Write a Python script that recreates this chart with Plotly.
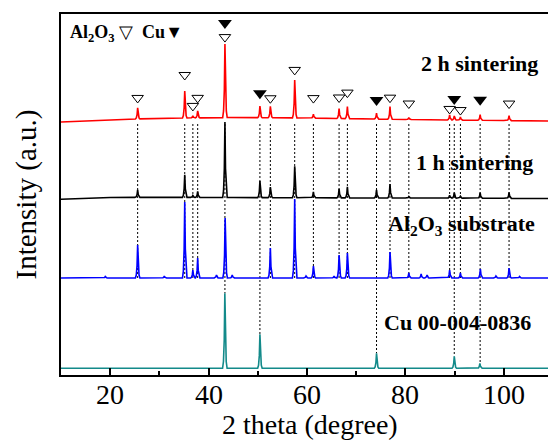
import numpy as np
import plotly.graph_objects as go

# ---------------- data ----------------
# peak positions (2 theta, degree) and intensities (a.u., relative to own baseline)
cu_ref_pos = [43.30, 50.43, 74.13, 89.93, 95.14]
cu_ref_int = [75, 34, 15, 12, 5]

al2o3_pos = [19.0, 25.58, 31.0, 35.15, 36.80, 37.78, 41.6, 43.36, 44.8, 52.55, 57.50,
             59.8, 61.30, 65.5, 66.52, 68.21, 76.87, 80.70, 83.2, 84.4, 88.99,
             91.18, 95.24, 98.4, 101.07, 103.2]
al2o3_int = [1.5, 33, 2, 76, 8, 20, 3, 60, 3, 30, 79,
             2, 12, 2, 23, 25, 26, 5, 4, 3, 8,
             5, 9, 2, 10, 1.5]

h1_pos = [25.58, 35.15, 36.80, 37.78, 43.32, 50.43, 52.55, 57.50, 61.30, 66.52,
          68.21, 74.13, 76.87, 80.70, 88.99, 89.93, 91.18, 95.19, 101.07]
h1_int = [7.5, 22.5, 2, 6, 75.5, 16.5, 10.5, 31.5, 6, 9,
          11, 8, 14, 1.5, 3, 5.5, 2, 5.5, 6]

h2_pos = [25.58, 35.15, 36.80, 37.78, 43.32, 50.43, 52.55, 57.50, 61.30, 66.52,
          68.21, 74.13, 76.87, 80.70, 88.99, 89.93, 91.18, 95.19, 101.07]
h2_int = [11, 27, 2, 7, 73.5, 11.5, 11.5, 38, 4, 10,
          12, 6, 12.6, 2, 5, 4, 3, 5.5, 5]

# slowly varying baselines (2 theta, intensity)
base_x = [10, 20, 25, 35, 45, 60, 80, 100, 110]
cu_ref_base = [6.7] * 9
al2o3_base = [97, 97, 97, 97, 97, 97, 97, 97, 97]
h1_base = [175.7, 177.5, 177.6, 177.6, 177.5, 177.2, 177.0, 176.7, 176.5]
h2_base = [253.0, 255.0, 256.0, 257.0, 257.5, 257.0, 255.5, 254.5, 254.0]

# x tick labels
x_ticks = [20, 40, 60, 80, 100]
x_tick_text = ["20", "40", "60", "80", "100"]

# phase markers
al2o3_mark_pos = [25.58, 35.15, 36.80, 37.78, 43.32, 52.55, 57.50, 61.30, 66.52,
                  68.21, 76.87, 80.70, 88.99, 91.18, 101.07]
cu_mark_pos = [43.32, 50.43, 74.13, 89.93, 95.19]

# marker gap above the 2 h peak (px, style only)
al2o3_gap = [10, 16, 10, 13, 7, 8, 10, 16, 11, 14, 9, 14, 6, 7, 12]
cu_gap = [21, 13, 13, 17, 15]

# dotted guide lines
al2o3_lines = [25.58, 35.15, 36.80, 37.78, 52.55, 57.50, 61.30, 66.52, 68.21,
               76.87, 80.70, 88.99, 91.18, 101.07]
cu_lines = [43.32, 50.43, 74.13, 89.93, 95.19]

# ---------------- helpers ----------------
PROF_DX = [-0.46, -0.28, -0.12, 0.0, 0.12, 0.28, 0.46]
PROF_F = [0.0, 0.09, 0.38, 1.0, 0.38, 0.09, 0.0]


def pattern(pos, inten, bx, by):
    pts = [(x, y) for x, y in zip(bx, by)
           if all(abs(x - p) > 0.5 for p in pos)]
    for p, h in zip(pos, inten):
        for dx, f in zip(PROF_DX, PROF_F):
            xx = p + dx
            pts.append((xx, float(np.interp(xx, bx, by)) + f * h))
    pts.sort(key=lambda t: t[0])
    return [t[0] for t in pts], [t[1] for t in pts]


def top_of(p, pos, inten, bx, by):
    i = int(np.argmin([abs(q - p) for q in pos]))
    return float(np.interp(pos[i], bx, by)) + inten[i]


FONT = "Liberation Serif, Times New Roman, serif"
fig = go.Figure()

# dotted guide lines
red_line_top = float(np.min(h2_base)) - 2
lx, ly = [], []
for p in al2o3_lines:
    lx += [p, p, None]
    ly += [red_line_top, al2o3_base[0], None]
for p in cu_lines:
    lx += [p, p, None]
    ly += [red_line_top, top_of(p, cu_ref_pos, cu_ref_int, base_x, cu_ref_base), None]
fig.add_trace(go.Scatter(x=lx, y=ly, mode="lines",
                         line=dict(color="black", width=1, dash="2px,2px"),
                         hoverinfo="skip", showlegend=False))

series = [
    (cu_ref_pos, cu_ref_int, cu_ref_base, "#138a8a"),
    (al2o3_pos, al2o3_int, al2o3_base, "#0000ff"),
    (h1_pos, h1_int, h1_base, "#000000"),
    (h2_pos, h2_int, h2_base, "#ff0000"),
]
for pos, inten, base, col in series:
    xs, ys = pattern(pos, inten, base_x, base)
    fig.add_trace(go.Scatter(x=xs, y=ys, mode="lines",
                             line=dict(color=col, width=1.6),
                             showlegend=False))

# markers above 2 h pattern
oy = [top_of(p, h2_pos, h2_int, base_x, h2_base) + g for p, g in zip(al2o3_mark_pos, al2o3_gap)]
fy = [top_of(p, h2_pos, h2_int, base_x, h2_base) + g for p, g in zip(cu_mark_pos, cu_gap)]
fig.add_trace(go.Scatter(x=al2o3_mark_pos, y=oy, mode="markers",
                         marker=dict(symbol="triangle-down-open", size=10,
                                     color="black", line=dict(width=1, color="black")),
                         showlegend=False))
fig.add_trace(go.Scatter(x=cu_mark_pos, y=fy, mode="markers",
                         marker=dict(symbol="triangle-down", size=12, color="black"),
                         showlegend=False))

# text labels
labels = [
    (95.0, 312, "<b>2 h sintering</b>"),
    (94.1, 213, "<b>1 h sintering</b>"),
    (91.5, 150, "<b>Al<sub>2</sub>O<sub>3</sub> substrate</b>"),
    (90.5, 53, "<b>Cu 00-004-0836</b>"),
]
for x, y, t in labels:
    fig.add_annotation(x=x, y=y, text=t, showarrow=False, xanchor="center",
                       yanchor="middle", font=dict(family=FONT, size=22, color="black"))

fig.add_annotation(x=11.4, y=342, text="<b>Al<sub>2</sub>O<sub>3</sub></b> ▽  <b>Cu</b>▼",
                   showarrow=False, xanchor="left", yanchor="middle",
                   font=dict(family=FONT, size=18, color="black"))

# x tick labels
for v, t in zip(x_ticks, x_tick_text):
    fig.add_annotation(x=v, xref="x", yref="paper", y=(375 - 394) / 361, text=t,
                       showarrow=False, xanchor="center", yanchor="middle",
                       font=dict(family=FONT, size=28, color="black"))

# axis titles
fig.add_annotation(xref="paper", yref="paper", x=(26 - 61) / 487, y=0.5,
                   text="Intensity (a.u.)", textangle=-90, showarrow=False,
                   xanchor="center", yanchor="middle",
                   font=dict(family=FONT, size=29, color="black"))
fig.add_annotation(xref="paper", yref="paper", x=(310 - 61) / 487, y=(375 - 424) / 361,
                   text="2 theta (degree)", showarrow=False,
                   xanchor="center", yanchor="middle",
                   font=dict(family=FONT, size=28, color="black"))

fig.update_layout(
    width=548, height=441,
    margin=dict(l=61, r=0, t=14, b=66),
    paper_bgcolor="white", plot_bgcolor="white",
    font=dict(family=FONT, color="black"),
    xaxis=dict(range=[10, 10 + 487 / 4.92], showgrid=False, zeroline=False,
               showline=True, mirror=True, linecolor="black", linewidth=2,
               ticks="inside", ticklen=7, tickwidth=1.5, tickcolor="black",
               tickvals=x_ticks, showticklabels=False,
               minor=dict(ticks="inside", ticklen=4, tick0=0, dtick=10,
                          tickcolor="black", tickwidth=1.5)),
    yaxis=dict(range=[0, 361], showgrid=False, zeroline=False, showline=True,
               linecolor="black", linewidth=2, showticklabels=False, ticks=""),
)

fig.write_html("out.html")
